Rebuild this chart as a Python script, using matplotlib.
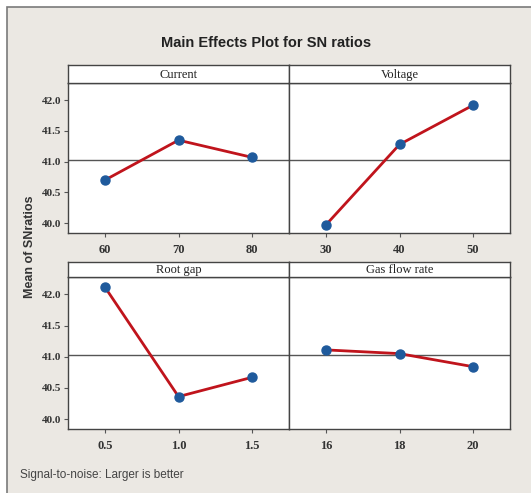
import numpy as np
import matplotlib
matplotlib.use('Agg')
import matplotlib.pyplot as plt
from matplotlib.patches import Rectangle

# factor levels and mean SN ratios
factors = ['Current', 'Voltage', 'Root gap', 'Gas flow rate']
current_levels = ['60', '70', '80']
current_sn = [40.70, 41.35, 41.07]
voltage_levels = ['30', '40', '50']
voltage_sn = [39.97, 41.28, 41.92]
rootgap_levels = ['0.5', '1.0', '1.5']
rootgap_sn = [42.12, 40.36, 40.67]
gasflow_levels = ['16', '18', '20']
gasflow_sn = [41.11, 41.05, 40.84]
grand_mean = 41.02

yticks = [40.0, 40.5, 41.0, 41.5, 42.0]

W, H = 531, 493
fig = plt.figure(figsize=(W / 100, H / 100), dpi=100, facecolor='white')

# grey background frame
fig.patches.append(Rectangle((7 / W, -0.05), 1.1, (H - 7) / H + 0.05, transform=fig.transFigure,
                             facecolor='#ebe8e3', edgecolor='#7a7a7a', linewidth=1.2, zorder=-1))

serif = ['Liberation Serif', 'DejaVu Serif']
sans = ['Liberation Sans', 'DejaVu Sans']

panels = [
    (current_levels, current_sn, 68, 65, 83, 233),
    (voltage_levels, voltage_sn, 289, 65, 83, 233),
    (rootgap_levels, rootgap_sn, 68, 262, 277, 429),
    (gasflow_levels, gasflow_sn, 289, 262, 277, 429),
]
pw = 289 - 68

for i, (levels, vals, x0, s_top, d_top, d_bot) in enumerate(panels):
    ax = fig.add_axes([x0 / W, (H - d_bot) / H, pw / W, (d_bot - d_top) / H])
    ax.set_facecolor('white')
    x = np.arange(len(levels))
    ax.axhline(grand_mean, color='#555555', lw=1.0, zorder=1)
    ax.plot(x, vals, color='#c0141c', lw=2.0, zorder=2)
    ax.plot(x, vals, 'o', color='#1f5a9c', ms=6.5, zorder=3)
    ax.set_xlim(-0.5, 2.5)
    ax.set_ylim(39.84, 42.28)
    ax.set_xticks(x)
    ax.set_xticklabels(levels, fontfamily=serif, fontsize=9, fontweight='bold', color='#333333')
    ax.set_yticks(yticks)
    if i % 2 == 0:
        ax.set_yticklabels(['%.1f' % v for v in yticks], fontfamily=serif, fontsize=8,
                           fontweight='bold', color='#333333')
    else:
        ax.tick_params(axis='y', left=False, labelleft=False)
    ax.tick_params(axis='x', length=3, pad=5, color='#555555')
    ax.tick_params(axis='y', length=3, pad=2, color='#555555')
    for sp in ax.spines.values():
        sp.set_color('#444444')
        sp.set_linewidth(1.0)

    # strip header
    sx = fig.add_axes([x0 / W, (H - d_top) / H, pw / W, (d_top - s_top) / H])
    sx.set_facecolor('white')
    sx.set_xticks([])
    sx.set_yticks([])
    for sp in sx.spines.values():
        sp.set_color('#444444')
        sp.set_linewidth(1.0)
    sx.text(0.5, 0.45, factors[i], ha='center', va='center', fontfamily=serif,
            fontsize=9, color='#222222', transform=sx.transAxes)

fig.text(266 / W, 1 - 43 / H, 'Main Effects Plot for SN ratios', ha='center', va='center',
         fontfamily=sans, fontsize=10.5, fontweight='bold', color='#222222')
fig.text(30 / W, 1 - 247 / H, 'Mean of SNratios', ha='center', va='center', rotation=90,
         fontfamily=sans, fontsize=9, fontweight='bold', color='#333333')
fig.text(20 / W, 1 - 475 / H, 'Signal-to-noise: Larger is better', ha='left', va='center',
         fontfamily=sans, fontsize=8.5, color='#444444')

plt.savefig('out.png', dpi=100, facecolor=fig.get_facecolor())
